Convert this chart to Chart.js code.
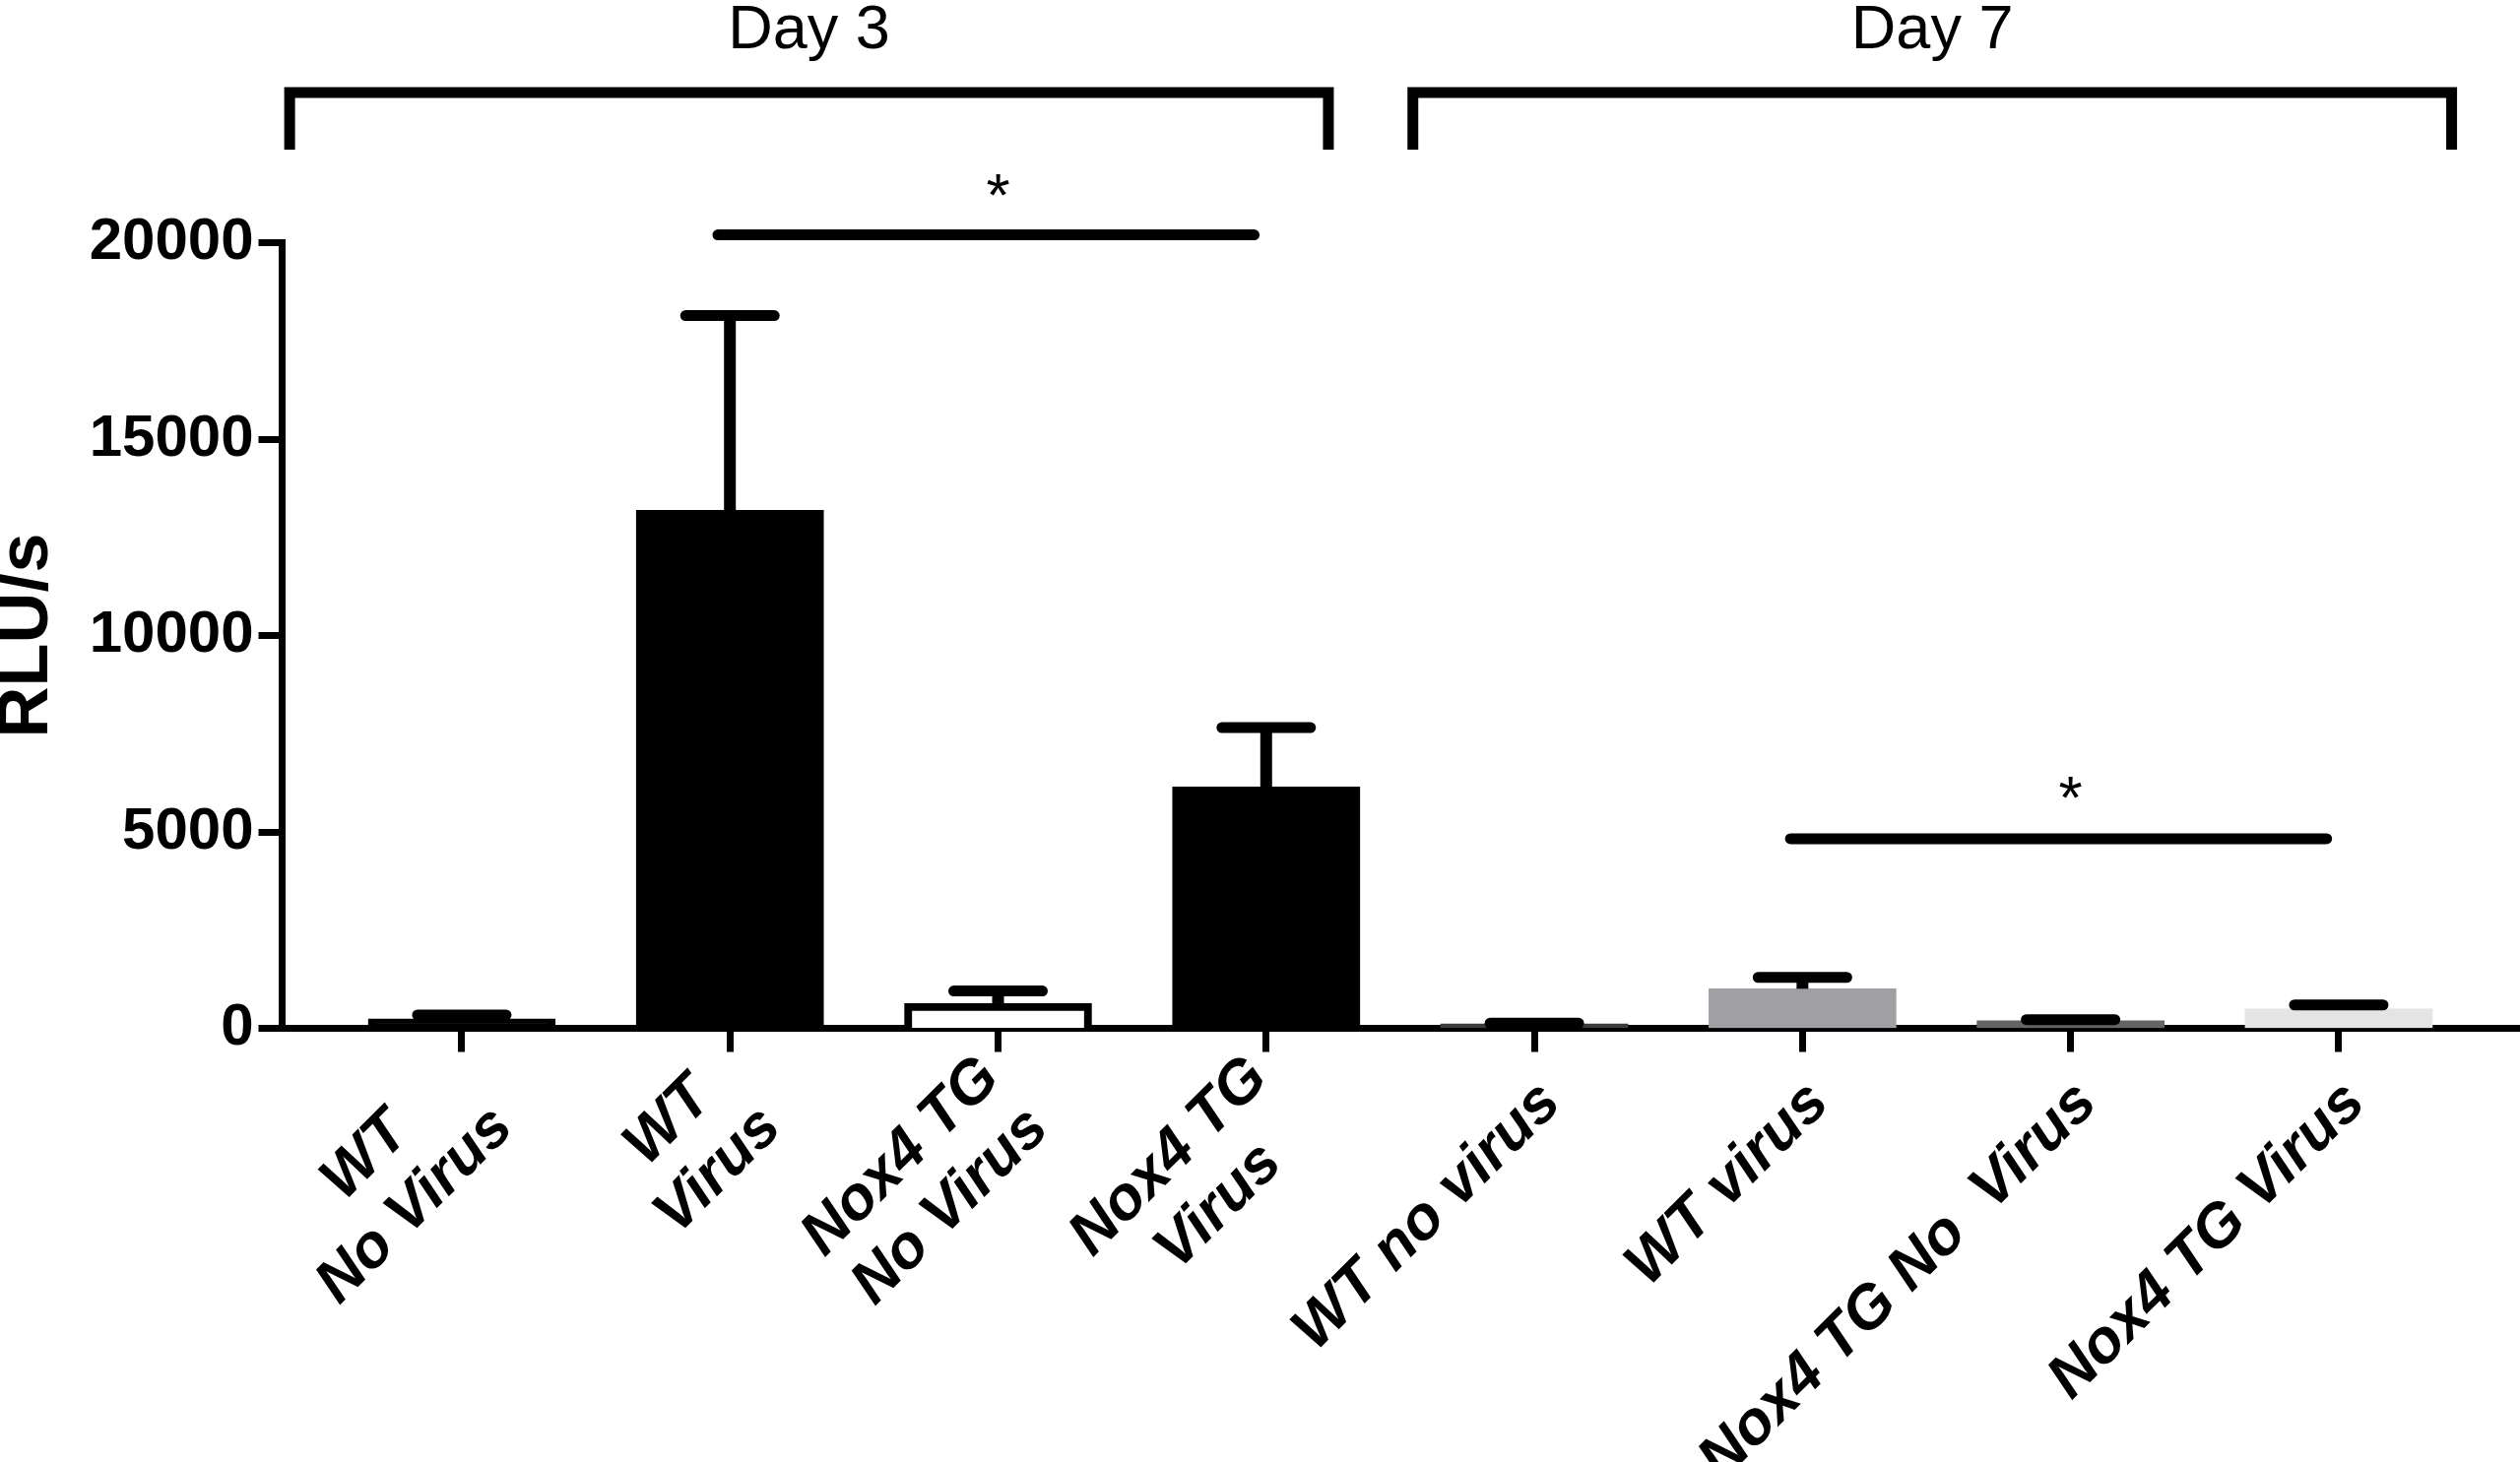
<!DOCTYPE html>
<html>
<head>
<meta charset="utf-8">
<script src="https://cdn.jsdelivr.net/npm/chart.js@4.4.1/dist/chart.umd.min.js"></script>
<style>
  html, body { margin: 0; padding: 0; background: #fff; }
  #wrap { width: 2559px; height: 1485px; position: relative; }
</style>
</head>
<body>
<div id="wrap"><canvas id="myChart"></canvas></div>
<script>
// bars, left to right
var labels = [["WT", "No Virus"], ["WT", "Virus"], ["Nox4 TG", "No Virus"], ["Nox4 TG", "Virus"],
              ["WT no virus"], ["WT virus"], ["Nox4 TG No  Virus"], ["Nox4 TG Virus"]];
var means = [240, 13190, 640, 6145, 110, 1007, 190, 490];
var sem = [100, 4955, 310, 1510, 20, 290, 30, 105];
var fills = ["#000000", "#000000", "#ffffff", "#000000", "#3c3c3c", "#a0a0a4", "#646464", "#e4e4e4"];
var outline = [8, 0, 8, 0, 0, 0, 0, 0];
var yTicks = [0, 5000, 10000, 15000, 20000];

// day brackets (in axis units)
var groupNames = ["Day 3", "Day 7"];
var groupFrom = [-0.642, 3.547];
var groupTo = [3.232, 7.421];
var groupTop = 23822;
var groupLeg = 22368;
var groupText = 24950;

// significance bars
var sigFrom = [1, 5];
var sigTo = [3, 7];
var sigLevel = [20200, 4825];
var starLevel = [20680, 5360];

var FONT = '"Liberation Sans", Arial, sans-serif';

var barData = means.map(function (m, i) { return {x: i, y: m}; });

var datasets = [{
  type: 'bar',
  data: barData,
  backgroundColor: fills,
  borderColor: '#000',
  borderWidth: outline,
  barThickness: 190,
  grouped: false
}];

for (var g = 0; g < groupNames.length; g++) {
  datasets.push({
    type: 'line',
    data: [{x: groupFrom[g], y: groupLeg}, {x: groupFrom[g], y: groupTop},
           {x: groupTo[g], y: groupTop}, {x: groupTo[g], y: groupLeg}],
    borderColor: '#000', borderWidth: 11, borderJoinStyle: 'miter', borderCapStyle: 'butt',
    pointRadius: 0, tension: 0, fill: false, clip: false
  });
}
for (var s = 0; s < sigFrom.length; s++) {
  datasets.push({
    type: 'line',
    data: [{x: sigFrom[s] - 0.045, y: sigLevel[s]}, {x: sigTo[s] - 0.045, y: sigLevel[s]}],
    borderColor: '#000', borderWidth: 11, borderCapStyle: 'round',
    pointRadius: 0, tension: 0, fill: false, clip: false
  });
}

var errorBars = {
  id: 'errorBars',
  afterDatasetsDraw: function (chart) {
    var ctx = chart.ctx, xs = chart.scales.x, ys = chart.scales.y;
    ctx.save();
    ctx.strokeStyle = '#000';
    for (var i = 0; i < means.length; i++) {
      var x = xs.getPixelForValue(i);
      var y0 = ys.getPixelForValue(means[i]);
      var y1 = ys.getPixelForValue(means[i] + sem[i]);
      ctx.lineWidth = 12;
      ctx.lineCap = 'butt';
      ctx.beginPath(); ctx.moveTo(x, y0); ctx.lineTo(x, y1); ctx.stroke();
      ctx.lineWidth = 11;
      ctx.lineCap = 'round';
      ctx.beginPath(); ctx.moveTo(x - 45, y1); ctx.lineTo(x + 45, y1); ctx.stroke();
    }
    ctx.restore();
  }
};

var texts = {
  id: 'texts',
  afterDraw: function (chart) {
    var ctx = chart.ctx, xs = chart.scales.x, ys = chart.scales.y;
    ctx.save();
    ctx.fillStyle = '#000';
    // rotated category labels, lines centred on each other
    ctx.font = 'italic bold 62px ' + FONT;
    ctx.textBaseline = 'middle';
    ctx.textAlign = 'center';
    var lh = 71;
    labels.forEach(function (lines, i) {
      var w = Math.max.apply(null, lines.map(function (t) { return ctx.measureText(t).width; }));
      ctx.save();
      ctx.translate(xs.getPixelForValue(i) + 17, xs.top + 66);
      ctx.rotate(-Math.PI / 4);
      lines.forEach(function (t, k) {
        ctx.fillText(t, -w / 2, (k - (lines.length - 1) / 2) * lh);
      });
      ctx.restore();
    });
    // day titles
    ctx.font = '63px ' + FONT;
    ctx.textBaseline = 'alphabetic';
    for (var g = 0; g < groupNames.length; g++) {
      ctx.fillText(groupNames[g], xs.getPixelForValue((groupFrom[g] + groupTo[g]) / 2), ys.getPixelForValue(groupText));
    }
    // stars
    ctx.font = '62px ' + FONT;
    for (var s = 0; s < sigFrom.length; s++) {
      ctx.fillText('*', xs.getPixelForValue((sigFrom[s] + sigTo[s]) / 2), ys.getPixelForValue(starLevel[s]));
    }
    ctx.restore();
  }
};

new Chart("myChart", {
  type: 'bar',
  data: {datasets: datasets},
  options: {
    responsive: true,
    maintainAspectRatio: false,
    animation: false,
    devicePixelRatio: 1,
    layout: {padding: {top: 246.5, left: 0, right: 0, bottom: 0}},
    plugins: {legend: {display: false}, tooltip: {enabled: false}},
    scales: {
      x: {
        type: 'linear', min: -0.670, max: 7.676, z: 1, offset: false,
        afterBuildTicks: function (axis) { axis.ticks = labels.map(function (l, i) { return {value: i}; }); },
        afterFit: function (axis) { axis.height = 440.5; },
        border: {display: true, color: '#000', width: 7},
        grid: {offset: false, drawOnChartArea: false, drawTicks: true, tickLength: 24, tickWidth: 7, tickColor: '#000'},
        ticks: {display: false}
      },
      y: {
        min: 0, max: 20000,
        afterBuildTicks: function (axis) { axis.ticks = yTicks.map(function (v) { return {value: v}; }); },
        afterFit: function (axis) { axis.width = 286.5; },
        border: {display: true, color: '#000', width: 7},
        grid: {drawOnChartArea: false, drawTicks: true, tickLength: 24, tickWidth: 7, tickColor: '#000'},
        ticks: {color: '#000', padding: 5, font: {family: FONT, size: 60, weight: 'bold'},
                callback: function (v) { return String(v); }},
        title: {display: true, text: 'RLU/s', color: '#000', padding: 0,
                font: {family: FONT, size: 72, weight: 'bold', lineHeight: 0.78}}
      }
    }
  },
  plugins: [errorBars, texts]
});
</script>
</body>
</html>
